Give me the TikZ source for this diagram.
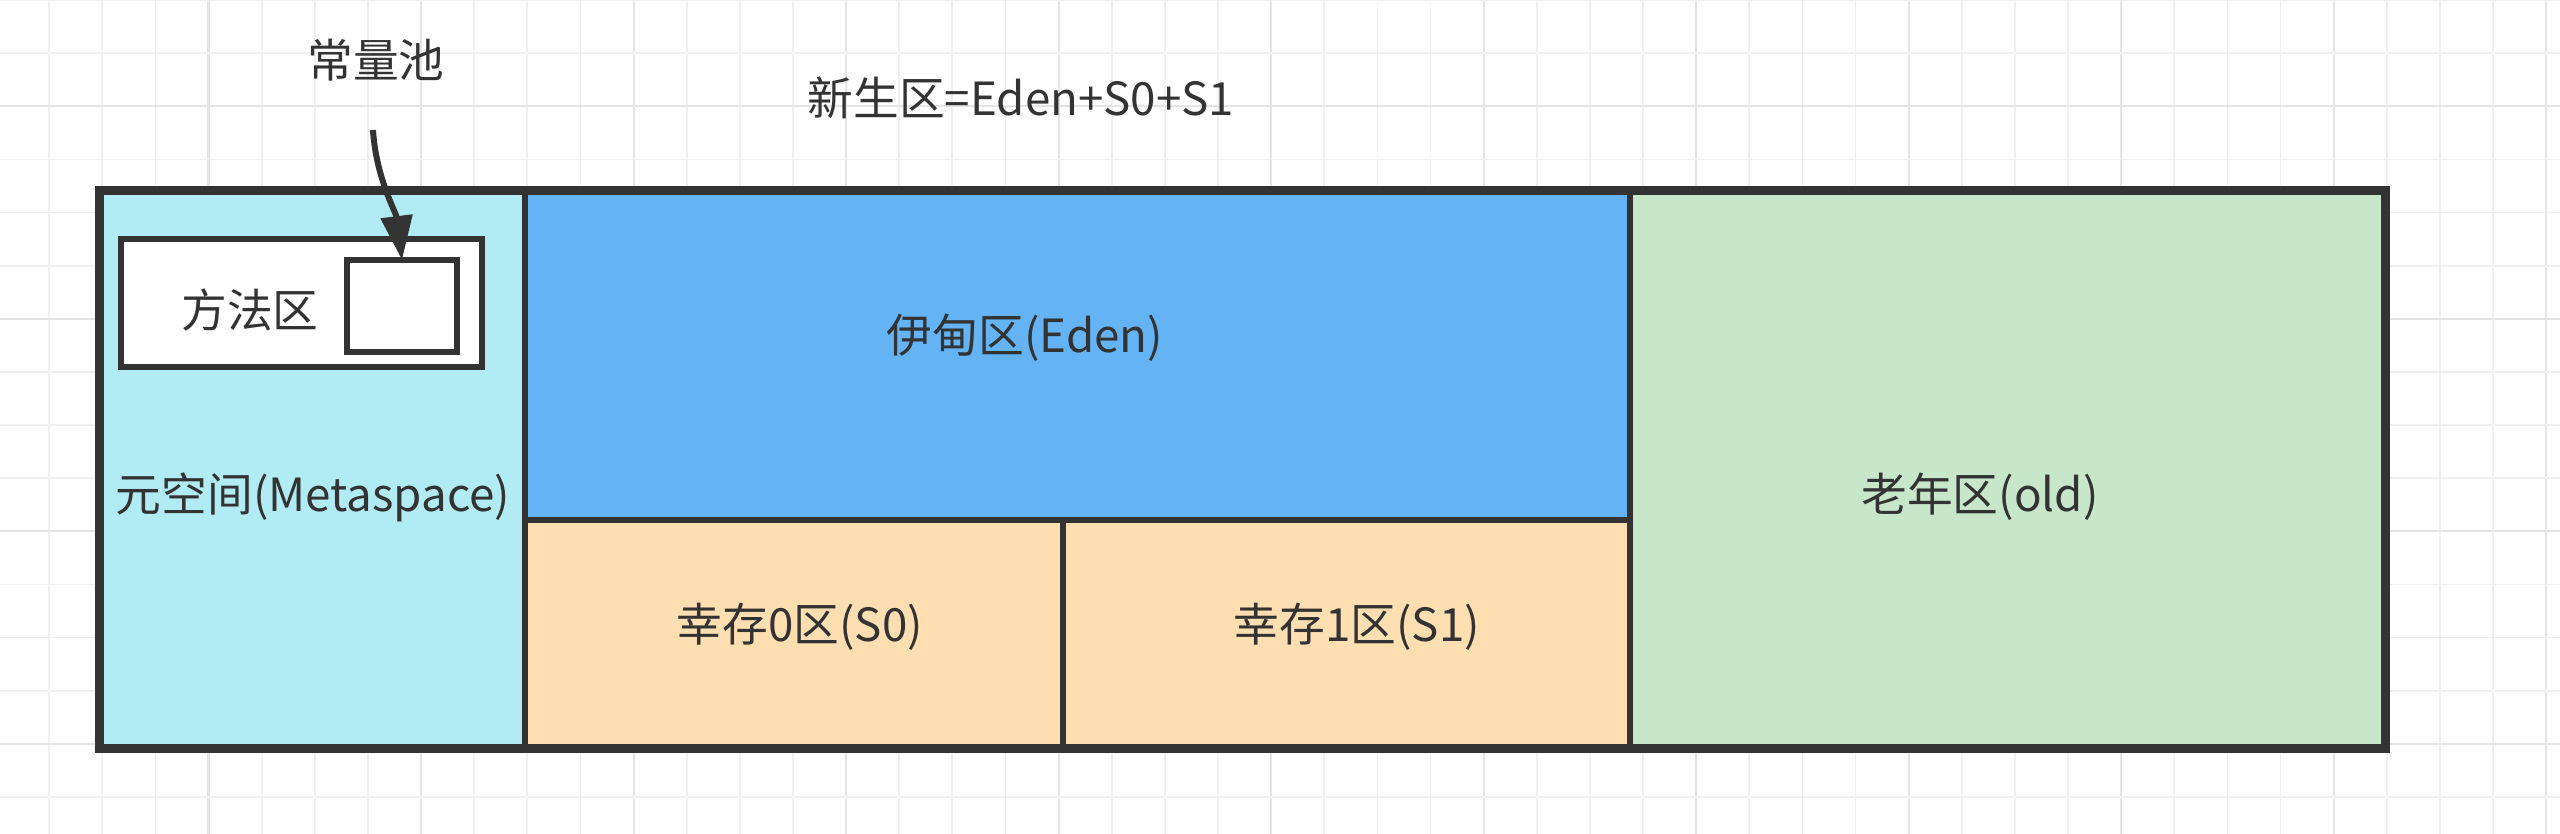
\documentclass[tikz,border=0pt]{standalone}
\usepackage{fontspec}
\setmainfont{Noto Sans CJK SC}
\usepackage{xcolor}
\definecolor{jvmline}{RGB}{51,51,51}
\definecolor{jvmgrid}{RGB}{240,240,240}
\definecolor{jvmgridmajor}{RGB}{228,228,228}
\definecolor{metacyan}{RGB}{177,235,243}
\definecolor{edenblue}{RGB}{100,180,245}
\definecolor{survivorpeach}{RGB}{255,223,178}
\definecolor{oldgreen}{RGB}{200,230,202}
\usetikzlibrary{arrows.meta}

\tikzset{
  cellbox/.style={draw=jvmline, line width=1.7pt, inner sep=0pt, outer sep=0pt},
  celltext/.style={font=\fontsize{13pt}{15pt}\selectfont, text=jvmline, inner sep=0pt},
  gridminor/.style={jvmgrid, line width=0.5pt},
  gridmajor/.style={jvmgridmajor, line width=0.6pt}
}

\begin{document}
\begin{tikzpicture}[x=0.01cm, y=-0.01cm]
      % Canvas and draw.io style grid
      \fill[white] (0,0) rectangle (2560,834);
      \useasboundingbox (0,0) rectangle (2560,834);
      \foreach \k in {0,...,48} {
        \pgfmathtruncatemacro{\m}{mod(\k,4)}
        \ifnum\m=0
          \draw[gridmajor] ({-4+53.13*\k},0) -- ({-4+53.13*\k},834);
        \else
          \draw[gridminor] ({-4+53.13*\k},0) -- ({-4+53.13*\k},834);
        \fi
      }
      \foreach \k in {0,...,15} {
        \pgfmathtruncatemacro{\m}{mod(\k,4)}
        \ifnum\m=2
          \draw[gridmajor] (0,{53.13*\k}) -- (2560,{53.13*\k});
        \else
          \draw[gridminor] (0,{53.13*\k}) -- (2560,{53.13*\k});
        \fi
      }

      % Heap and metaspace cells
      \node[cellbox, fill=metacyan, minimum width=4.25cm, minimum height=5.57cm] (meta) at (312.5,469.5) {};
      \node[cellbox, fill=edenblue, minimum width=11.05cm, minimum height=3.29cm] (eden) at (1077.5,355.5) {};
      \node[cellbox, fill=survivorpeach, minimum width=5.38cm, minimum height=2.28cm] (szero) at (794,634) {};
      \node[cellbox, fill=survivorpeach, minimum width=5.67cm, minimum height=2.28cm] (sone) at (1346.5,634) {};
      \node[cellbox, fill=oldgreen, minimum width=7.55cm, minimum height=5.57cm] (old) at (2007.5,469.5) {};
      \node[cellbox, line width=2.5pt, minimum width=22.85cm, minimum height=5.57cm] (heap) at (1242.5,469.5) {};

      % Method area with constant pool
      \node[cellbox, fill=white, minimum width=3.61cm, minimum height=1.28cm] (method) at (301.5,303) {};
      \node[cellbox, fill=white, minimum width=1.10cm, minimum height=0.92cm] (cpool) at (402,306) {};

      % Labels
      \node[celltext] (metatext) at (313,497) {元空间(Metaspace)};
      \node[celltext] (methodtext) at (250,310) {方法区};
      \node[celltext] (edentext) at (1025,338) {伊甸区(Eden)};
      \node[celltext] (szerotext) at (800,627) {幸存0区(S0)};
      \node[celltext] (sonetext) at (1357,627) {幸存1区(S1)};
      \node[celltext] (oldtext) at (1980,497) {老年区(old)};
      \node[celltext] (young) at (1021,98) {新生区=Eden+S0+S1};
      \node[celltext] (cpooltext) at (376,60) {常量池};

      % Pointer to the constant pool
      \coordinate (cpoolfrom) at (373,130);
      \draw[jvmline, line width=1.7pt, -{Triangle[length=4.4mm, width=3.1mm]}]
        (cpoolfrom) .. controls (376,178) and (396,212) .. (cpool.north);
    \end{tikzpicture}
\end{document}
